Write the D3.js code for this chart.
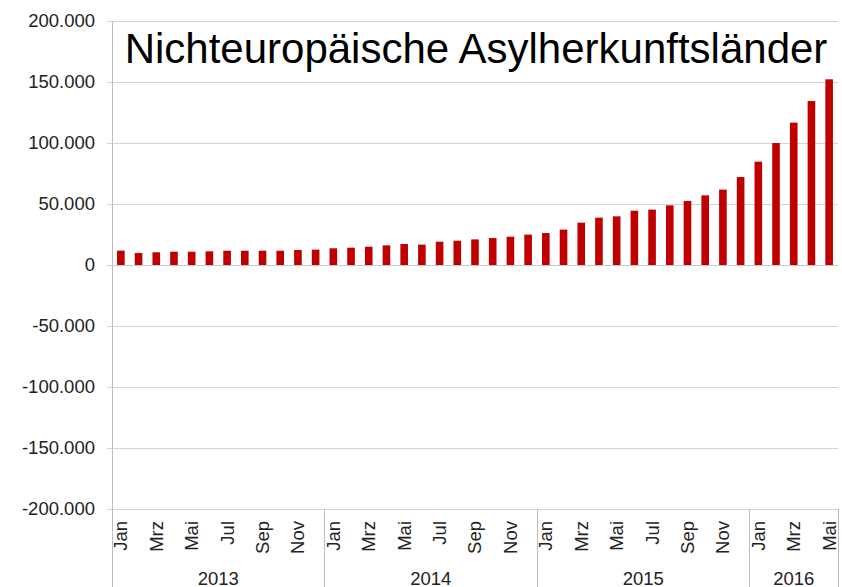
<!DOCTYPE html>
<html>
<head>
<meta charset="utf-8">
<script src="https://cdn.jsdelivr.net/npm/d3@7"></script>
<style>
  body { margin: 0; background: #fff; }
  text { font-family: "Liberation Sans", Arial, sans-serif; }
</style>
</head>
<body>
<svg id="chart" width="842" height="587"></svg>
<script>
// values in persons, Jan 2013 .. Mai 2016
var monthNames = ['Jan', 'Feb', 'Mrz', 'Apr', 'Mai', 'Jun', 'Jul', 'Aug', 'Sep', 'Okt', 'Nov', 'Dez'];
var years = ['2013', '2014', '2015', '2016'];
var values = [
    11800, 9800, 10400, 10900, 10900, 11200, 11700, 11700, 11700, 11700, 12300, 12600,
    13700, 14200, 15000, 16100, 17200, 16700, 19100, 19900, 21000, 22100, 23200, 24900,
    26200, 29000, 34700, 38800, 39900, 44500, 45400, 48900, 52500, 57100, 61800, 72100,
    84700, 100000, 116700, 134400, 152200
];
var yTicks = [-200000, -150000, -100000, -50000, 0, 50000, 100000, 150000, 200000];
var title = 'Nichteuropäische Asylherkunftsländer';

var months = values.map(function (v, i) {
    return { i: i, label: monthNames[i % 12], year: years[Math.floor(i / 12)], value: v };
});

var svg = d3.select('#chart');
var plotLeft = 112, plotRight = 838, plotTop = 21, plotBottom = 509, H = 587;

var x = d3.scaleBand()
    .domain(months.map(function (d) { return d.i; }))
    .range([plotLeft, plotRight])
    .paddingInner(0.57)
    .paddingOuter(0.285);

var y = d3.scaleLinear().domain([-200000, 200000]).range([plotBottom, plotTop]);

var de = d3.formatLocale({ decimal: ',', thousands: '.', grouping: [3], currency: ['', ' €'], minus: '-' });
var fmt = de.format(',d');

// grid lines
svg.append('g')
    .selectAll('line')
    .data(yTicks)
    .join('line')
    .attr('x1', plotLeft - 5)
    .attr('x2', plotRight)
    .attr('y1', function (d) { return Math.round(y(d)) + 0.5; })
    .attr('y2', function (d) { return Math.round(y(d)) + 0.5; })
    .attr('stroke', function (d) { return d === 0 ? '#c8c8c8' : '#d4d4d4'; })
    .attr('stroke-width', 1.2);

// y axis labels
var yAxis = d3.axisLeft(y).tickValues(yTicks).tickFormat(fmt).tickSize(0).tickPadding(17);
var gy = svg.append('g').attr('transform', 'translate(' + plotLeft + ',0)').call(yAxis);
gy.select('.domain').remove();
gy.selectAll('text')
    .attr('font-size', '18.5px')
    .attr('font-family', '"Liberation Sans", Arial, sans-serif')
    .attr('fill', '#222');

// left axis line
svg.append('line')
    .attr('x1', plotLeft + 0.5).attr('x2', plotLeft + 0.5)
    .attr('y1', plotTop).attr('y2', H)
    .attr('stroke', '#bdbdbd');

// bars
svg.append('g')
    .selectAll('rect')
    .data(months)
    .join('rect')
    .attr('x', function (d) { return x(d.i); })
    .attr('width', x.bandwidth())
    .attr('y', function (d) { return y(d.value); })
    .attr('height', function (d) { return y(0) - y(d.value); })
    .attr('fill', '#c00000');

// category axis: group separators
var gap = x.step() - x.bandwidth();
function edge(i) { return x(i) - gap / 2; }

var bounds = years.map(function (yr, k) {
    var first = k * 12;
    var last = Math.min(first + 11, months.length - 1);
    return { year: yr, x0: edge(first), x1: x(last) + x.bandwidth() + gap / 2 };
});

svg.append('g')
    .selectAll('line')
    .data(bounds.slice(1).map(function (b) { return b.x0; }).concat([plotRight]))
    .join('line')
    .attr('x1', function (d) { return Math.round(d) + 0.5; })
    .attr('x2', function (d) { return Math.round(d) + 0.5; })
    .attr('y1', plotBottom)
    .attr('y2', H)
    .attr('stroke', '#bdbdbd');

// month labels, every second month
svg.append('g')
    .selectAll('text')
    .data(months.filter(function (d) { return d.i % 2 === 0; }))
    .join('text')
    .attr('transform', function (d) {
        return 'translate(' + (x(d.i) + x.bandwidth() / 2) + ',' + (plotBottom + 12) + ') rotate(-90)';
    })
    .attr('dy', '0.35em')
    .attr('text-anchor', 'end')
    .attr('font-size', '18.5px')
    .attr('fill', '#222')
    .text(function (d) { return d.label; });

// year labels
svg.append('g')
    .selectAll('text')
    .data(bounds)
    .join('text')
    .attr('x', function (d) { return (d.x0 + d.x1) / 2; })
    .attr('y', 585)
    .attr('text-anchor', 'middle')
    .attr('font-size', '18.5px')
    .attr('fill', '#222')
    .text(function (d) { return d.year; });

// title
svg.append('text')
    .attr('x', 476)
    .attr('y', 63)
    .attr('text-anchor', 'middle')
    .attr('font-size', '42px')
    .attr('fill', '#000')
    .text(title);
</script>
</body>
</html>
